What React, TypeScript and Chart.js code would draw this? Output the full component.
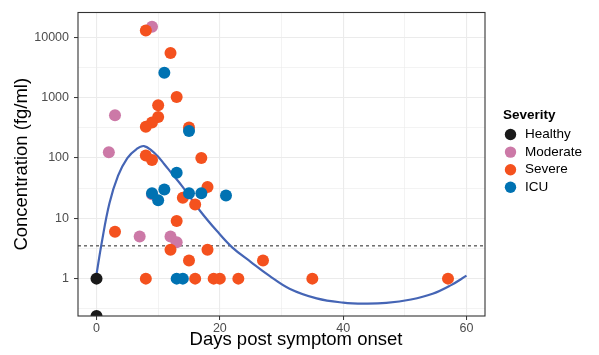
import { useEffect, useRef } from "react";
import { Chart, registerables } from "chart.js";
Chart.register(...registerables);

// ---- data ----
const healthyX = [0, 0];
const healthyY = [1, 0.24];

const moderateX = [9, 3, 2, 9, 7, 12, 13];
const moderateY = [15000, 510, 125, 25, 5, 5, 4];

const severeX = [8, 12, 13, 10, 10, 9, 8, 15, 8, 9, 17, 18, 14, 16, 13, 3, 12, 18, 15, 27, 8, 16, 19, 20, 23, 35, 57];
const severeY = [13000, 5500, 1030, 750, 480, 390, 330, 320, 110, 93, 100, 33, 22, 17, 9, 6, 3, 3, 2, 2, 1, 1, 1, 1, 1, 1, 1];

const icuX = [11, 15, 13, 9, 11, 10, 15, 17, 21, 13, 14];
const icuY = [2600, 280, 57, 26, 30, 20, 26, 26, 24, 1, 1];

// smooth fit
const curveX = [0, 0.8, 2.1, 3.5, 5, 6.5, 7.7, 9, 10, 11, 12, 14, 16.75, 19.5, 22, 25, 28, 31.3, 35.7, 40, 43.5, 47, 51, 54.5, 57.5, 60];
const curveY = [1.17, 3.7, 17.8, 51, 100, 141, 158, 132, 105, 79, 59, 33, 13.5, 6.2, 3.3, 1.9, 1.12, 0.68, 0.47, 0.4, 0.385, 0.395, 0.45, 0.56, 0.78, 1.12];

const THRESHOLD = 3.5;

const xMajorTicks = [0, 20, 40, 60];
const xMinorTicks = [10, 30, 50];
const yMajorTicks = [1, 10, 100, 1000, 10000];
const yMinorTicks = [0.3162, 3.162, 31.62, 316.2, 3162];

const severityLabels = ["Healthy", "Moderate", "Severe", "ICU"];
const severityColors = ["#1a1a1a", "#CC79A7", "#F4511E", "#0072B2"];

const FONT = "'Liberation Sans', Arial, Helvetica, sans-serif";

const toPts = (xs: number[], ys: number[]) => xs.map((x, i) => ({ x, y: ys[i] }));

const decor = {
  id: "decor",
  beforeDatasetsDraw(chart: any) {
    const { ctx, chartArea, scales } = chart;
    const py = scales.y.getPixelForValue(THRESHOLD);
    ctx.save();
    ctx.strokeStyle = "#555555";
    ctx.lineWidth = 1.3;
    ctx.setLineDash([3, 3]);
    ctx.beginPath();
    ctx.moveTo(chartArea.left, py);
    ctx.lineTo(chartArea.right, py);
    ctx.stroke();
    ctx.restore();
  },
  afterDraw(chart: any) {
    const { ctx, chartArea } = chart;
    ctx.save();
    // panel border
    ctx.strokeStyle = "#333333";
    ctx.lineWidth = 1.1;
    ctx.strokeRect(chartArea.left, chartArea.top, chartArea.right - chartArea.left, chartArea.bottom - chartArea.top);
    // axis titles
    ctx.fillStyle = "#000000";
    ctx.font = `18.5px ${FONT}`;
    ctx.textAlign = "center";
    ctx.textBaseline = "middle";
    ctx.fillText("Days post symptom onset", 296, 340);
    ctx.save();
    ctx.translate(22, (chartArea.top + chartArea.bottom) / 2);
    ctx.rotate(-Math.PI / 2);
    ctx.fillText("Concentration (fg/ml)", 0, 0);
    ctx.restore();
    // legend
    ctx.textAlign = "left";
    ctx.font = `bold 13.5px ${FONT}`;
    ctx.fillText("Severity", 503, 115);
    ctx.font = `13.5px ${FONT}`;
    severityLabels.forEach((lab, i) => {
      const cy = 134.5 + i * 17.6;
      ctx.fillStyle = severityColors[i];
      ctx.beginPath();
      ctx.arc(510.5, cy, 5.7, 0, Math.PI * 2);
      ctx.fill();
      ctx.fillStyle = "#000000";
      ctx.fillText(lab, 525, cy);
    });
    ctx.restore();
  },
};

export default function App() {
  const ref = useRef<HTMLCanvasElement | null>(null);
  useEffect(() => {
    if (!ref.current) return;
    const pt = (color: string, xs: number[], ys: number[], label: string) => ({
      type: "scatter" as const,
      label,
      data: toPts(xs, ys),
      backgroundColor: color,
      borderColor: color,
      borderWidth: 0,
      pointRadius: 6,
      pointHoverRadius: 6,
    });
    const chart = new Chart(ref.current, {
      type: "scatter",
      data: {
        datasets: [
          pt(severityColors[3], icuX, icuY, "ICU"),
          pt(severityColors[2], severeX, severeY, "Severe"),
          pt(severityColors[1], moderateX, moderateY, "Moderate"),
          pt(severityColors[0], healthyX, healthyY, "Healthy"),
          {
            type: "line" as const,
            label: "fit",
            data: toPts(curveX, curveY),
            borderColor: "#4565B5",
            borderWidth: 2.2,
            pointRadius: 0,
            fill: false,
            tension: 0.4,
          },
        ],
      },
      options: {
        responsive: false,
        animation: false,
        devicePixelRatio: 1,
        layout: { padding: { left: 0, right: 114, top: 7, bottom: 0 } },
        plugins: { legend: { display: false }, tooltip: { enabled: false } },
        scales: {
          x: {
            type: "linear",
            min: -3,
            max: 63,
            afterBuildTicks: (s: any) => {
              s.ticks = [...xMajorTicks, ...xMinorTicks].sort((a, b) => a - b).map((v) => ({ value: v }));
            },
            afterFit: (s: any) => {
              s.height = 39;
            },
            border: { display: false },
            grid: {
              color: "#EBEBEB",
              lineWidth: (c: any) => (xMajorTicks.includes(c.tick?.value) ? 1.1 : 0.6),
              tickLength: 4,
              tickColor: (c: any) => (xMajorTicks.includes(c.tick?.value) ? "#333333" : "rgba(0,0,0,0)"),
              tickWidth: 1,
            },
            ticks: {
              autoSkip: false,
              maxRotation: 0,
              padding: 1,
              color: "#4D4D4D",
              font: { family: FONT, size: 12.5 },
              callback: (v: any) => (xMajorTicks.includes(Number(v)) ? String(v) : ""),
            },
          },
          y: {
            type: "logarithmic",
            min: 0.24,
            max: 25900,
            afterBuildTicks: (s: any) => {
              s.ticks = [...yMajorTicks, ...yMinorTicks].sort((a, b) => a - b).map((v) => ({ value: v }));
            },
            afterFit: (s: any) => {
              s.width = 78;
            },
            border: { display: false },
            grid: {
              color: "#EBEBEB",
              lineWidth: (c: any) => (yMajorTicks.includes(c.tick?.value) ? 1.1 : 0.6),
              tickLength: 4,
              tickColor: (c: any) => (yMajorTicks.includes(c.tick?.value) ? "#333333" : "rgba(0,0,0,0)"),
              tickWidth: 1,
            },
            ticks: {
              autoSkip: false,
              padding: 5,
              color: "#4D4D4D",
              font: { family: FONT, size: 12.5 },
              callback: (v: any) => (yMajorTicks.includes(Number(v)) ? String(v) : ""),
            },
          },
        },
      },
      plugins: [decor],
    });
    return () => chart.destroy();
  }, []);
  return (
    <div style={{ position: "fixed", left: 0, top: 0, width: 599, height: 355, background: "#ffffff" }}>
      <canvas ref={ref} width={599} height={355} style={{ display: "block" }} />
    </div>
  );
}
